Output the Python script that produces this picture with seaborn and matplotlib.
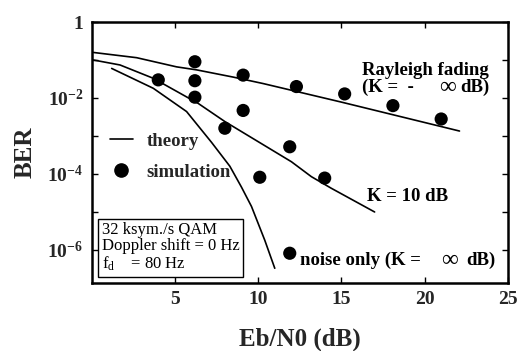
import numpy as np
import pandas as pd
import matplotlib
matplotlib.use("Agg")
import matplotlib.pyplot as plt
from matplotlib.lines import Line2D
import seaborn as sns

# ---- theory curves (Eb/N0 in dB, BER) ----
rayleigh_theory_x = [0.1, 2.7, 5.1, 6.3, 8.5, 10.3, 15.0, 22.1]
rayleigh_theory_ber = [0.158, 0.115, 0.066, 0.055, 0.0355, 0.024, 0.0078, 0.00135]

k10_theory_x = [0.1, 1.7, 3.7, 6.4, 8.0, 10.0, 12.0, 13.2, 14.4, 17.0]
k10_theory_ber = [0.1, 0.074, 0.033, 0.0072, 0.0024, 7.1e-4, 2.1e-4, 8.5e-5, 4.2e-5, 1.0e-5]

noise_theory_x = [1.2, 3.7, 5.7, 7.2, 8.3, 9.0, 9.6, 10.4, 11.0]
noise_theory_ber = [0.060, 0.018, 0.0044, 6.8e-4, 1.6e-4, 4.5e-5, 1.4e-5, 1.8e-6, 3.3e-7]

# ---- simulation points ----
rayleigh_sim_x = [6.2, 9.1, 12.3, 15.2, 18.1, 21.0]
rayleigh_sim_ber = [0.090, 0.040, 0.020, 0.0128, 0.0063, 0.0028]

k10_sim_x = [4.0, 6.2, 6.2, 8.0, 9.1, 11.9, 14.0]
k10_sim_ber = [0.030, 0.0285, 0.0105, 0.0016, 0.0047, 5.2e-4, 7.8e-5]

noise_sim_x = [10.1, 11.9]
noise_sim_ber = [8.2e-5, 8.2e-7]

x_ticks = [5, 10, 15, 20, 25]
y_ticks = [1, 1e-1, 1e-2, 1e-3, 1e-4, 1e-5, 1e-6]
y_tick_labels = ["1", "", r"$10^{-2}$", "", r"$10^{-4}$", "", r"$10^{-6}$"]

sns.set_theme(style="ticks")
plt.rcParams["font.family"] = ["Liberation Serif", "DejaVu Serif"]
plt.rcParams["font.weight"] = "bold"
plt.rcParams["mathtext.fontset"] = "custom"
plt.rcParams["mathtext.rm"] = "Liberation Serif:bold"
plt.rcParams["mathtext.it"] = "Liberation Serif:bold"
plt.rcParams["mathtext.bf"] = "Liberation Serif:bold"
plt.rcParams["mathtext.sf"] = "Liberation Serif:normal"

theory = pd.concat([
    pd.DataFrame({"snr": rayleigh_theory_x, "ber": rayleigh_theory_ber, "curve": "rayleigh"}),
    pd.DataFrame({"snr": k10_theory_x, "ber": k10_theory_ber, "curve": "k10"}),
    pd.DataFrame({"snr": noise_theory_x, "ber": noise_theory_ber, "curve": "noise"}),
], ignore_index=True)

sims = pd.concat([
    pd.DataFrame({"snr": rayleigh_sim_x, "ber": rayleigh_sim_ber}),
    pd.DataFrame({"snr": k10_sim_x, "ber": k10_sim_ber}),
    pd.DataFrame({"snr": noise_sim_x, "ber": noise_sim_ber}),
], ignore_index=True)

fig = plt.figure(figsize=(5.17, 3.51), dpi=100)
ax = fig.add_axes([0.1774, 0.1937, 0.8047, 0.7436])
ax.set_yscale("log")

sns.lineplot(data=theory, x="snr", y="ber", units="curve", estimator=None,
             sort=False, color="black", lw=1.2, ax=ax, legend=False)
sns.scatterplot(data=sims, x="snr", y="ber", color="black", s=90,
                edgecolor="none", ax=ax, legend=False)

ax.set_xlim(0, 25)
ax.set_ylim(1.35e-7, 1)

ax.set_xticks(x_ticks)
ax.set_xticklabels([str(t) for t in x_ticks])
ax.set_yticks(y_ticks)
ax.set_yticklabels(y_tick_labels)
ax.yaxis.set_minor_locator(matplotlib.ticker.NullLocator())
ax.xaxis.set_minor_locator(matplotlib.ticker.NullLocator())
ax.tick_params(which="both", direction="in", top=True, right=True,
               length=4, width=1.0, color="black", labelsize=14, pad=6)
for lab in ax.get_xticklabels() + ax.get_yticklabels():
    lab.set_fontweight("bold")

for sp in ax.spines.values():
    sp.set_linewidth(1.8)
    sp.set_color("black")

ax.set_xlabel("Eb/N0 (dB)", fontsize=18, fontweight="bold", labelpad=14)
ax.set_ylabel("BER", fontsize=18, fontweight="bold", labelpad=8)

# legend
handles = [
    Line2D([], [], color="black", lw=1.2),
    Line2D([], [], color="black", marker="o", ls="none", markersize=9.5),
]
ax.legend(handles, ["theory", "simulation"], loc="center left",
          bbox_to_anchor=(0.026, 0.484), frameon=False, borderaxespad=0,
          handlelength=1.2, handletextpad=0.75, labelspacing=0.75,
          prop={"family": "Liberation Serif", "weight": "bold", "size": 13.5})

# curve annotations
note = dict(transform=ax.transAxes, fontsize=13.5, fontweight="bold",
            va="center", ha="left", color="black")
inf_note = dict(transform=ax.transAxes, fontsize=17, fontweight="normal",
                va="center", ha="center", color="black")
ax.text(0.649, 0.815, "Rayleigh fading", **note)
ax.text(0.649, 0.748, "(K =  -", **note)
ax.text(0.8545, 0.750, "\u221e", **inf_note)
ax.text(0.887, 0.748, "dB)", **note)
ax.text(0.661, 0.331, "K = 10 dB", **note)
ax.text(0.501, 0.085, "noise only (K =", **note)
ax.text(0.861, 0.087, "\u221e", **inf_note)
ax.text(0.900, 0.085, "dB)", **note)

# condition box
ax.text(0.024, 0.235,
        "32 ksym./s QAM\nDoppler shift = 0 Hz\nf$_{\\mathsf{d}}$    = 80 Hz",
        transform=ax.transAxes, fontsize=12, fontweight="normal",
        va="top", ha="left", linespacing=1.05, color="black",
        bbox=dict(boxstyle="square,pad=0.2", fc="white", ec="black", lw=1.0))

fig.savefig("out.png", dpi=100)
